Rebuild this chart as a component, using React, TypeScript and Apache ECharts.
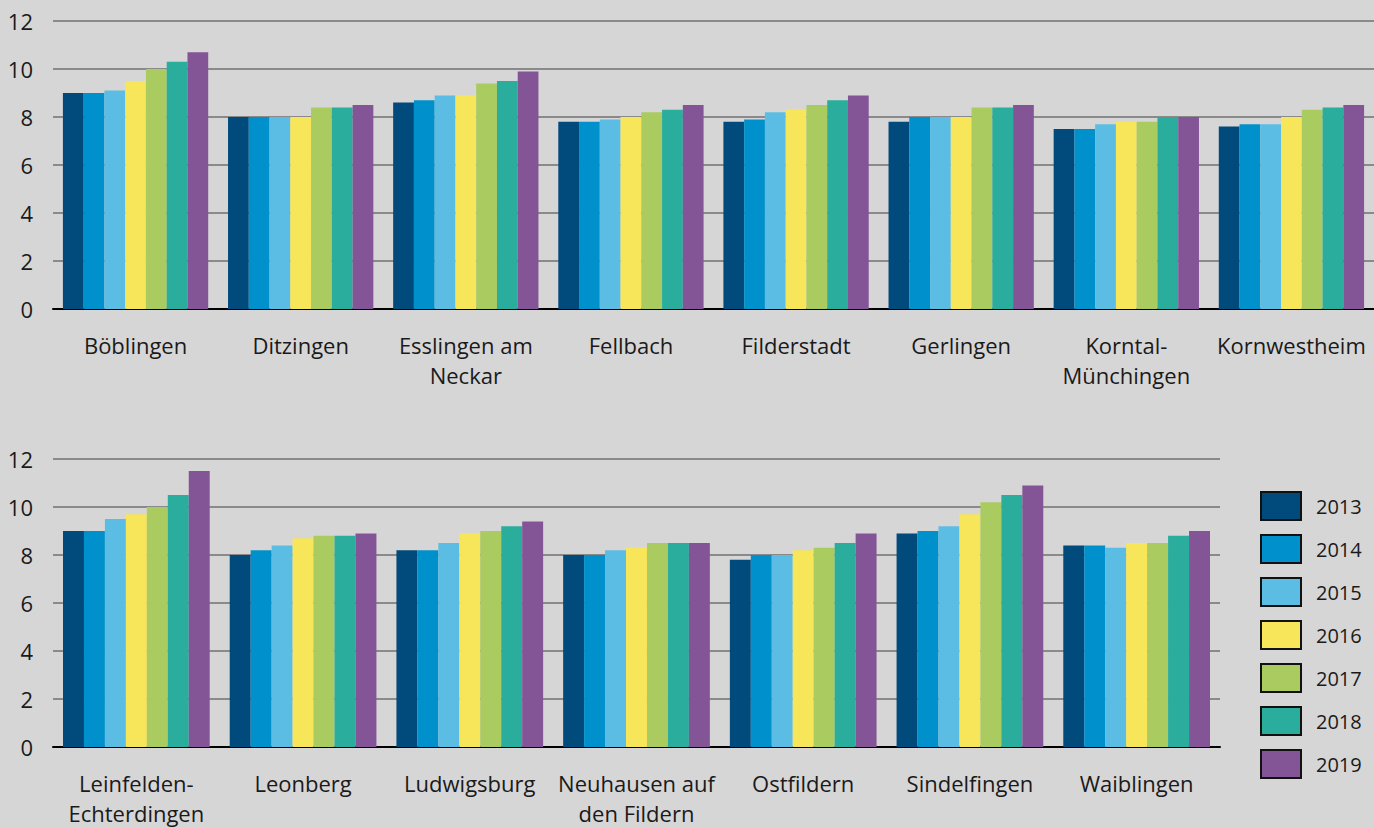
import React, { useEffect, useRef } from "react";
import * as echarts from "echarts";

const years = ["2013", "2014", "2015", "2016", "2017", "2018", "2019"];
const colors = ["#004a7c", "#0090cb", "#5bbde4", "#f7e55a", "#aacb5f", "#2aad9d", "#835597"];

const topCities = [
  "Böblingen",
  "Ditzingen",
  "Esslingen am\nNeckar",
  "Fellbach",
  "Filderstadt",
  "Gerlingen",
  "Korntal-\nMünchingen",
  "Kornwestheim",
];
// values per city, years 2013..2019
const topValues = [
  [9.0, 9.0, 9.1, 9.5, 10.0, 10.3, 10.7],
  [8.0, 8.0, 8.0, 8.0, 8.4, 8.4, 8.5],
  [8.6, 8.7, 8.9, 8.9, 9.4, 9.5, 9.9],
  [7.8, 7.8, 7.9, 8.0, 8.2, 8.3, 8.5],
  [7.8, 7.9, 8.2, 8.3, 8.5, 8.7, 8.9],
  [7.8, 8.0, 8.0, 8.0, 8.4, 8.4, 8.5],
  [7.5, 7.5, 7.7, 7.8, 7.8, 8.0, 8.0],
  [7.6, 7.7, 7.7, 8.0, 8.3, 8.4, 8.5],
];

const bottomCities = [
  "Leinfelden-\nEchterdingen",
  "Leonberg",
  "Ludwigsburg",
  "Neuhausen auf\nden Fildern",
  "Ostfildern",
  "Sindelfingen",
  "Waiblingen",
];
const bottomValues = [
  [9.0, 9.0, 9.5, 9.7, 10.0, 10.5, 11.5],
  [8.0, 8.2, 8.4, 8.7, 8.8, 8.8, 8.9],
  [8.2, 8.2, 8.5, 8.9, 9.0, 9.2, 9.4],
  [8.0, 8.0, 8.2, 8.3, 8.5, 8.5, 8.5],
  [7.8, 8.0, 8.0, 8.2, 8.3, 8.5, 8.9],
  [8.9, 9.0, 9.2, 9.7, 10.2, 10.5, 10.9],
  [8.4, 8.4, 8.3, 8.5, 8.5, 8.8, 9.0],
];

const yTicks = [0, 2, 4, 6, 8, 10, 12];

const FONT = "'Open Sans', 'Noto Sans', sans-serif";

export default function App() {
  const ref = useRef<HTMLDivElement>(null);
  useEffect(() => {
    if (!ref.current) return;
    const chart = echarts.init(ref.current, null, { renderer: "svg" });

    const yAxisBase = (gridIndex: number) => ({
      type: "value",
      gridIndex,
      min: yTicks[0],
      max: yTicks[yTicks.length - 1],
      interval: yTicks[1] - yTicks[0],
      axisLine: { show: false },
      axisTick: { show: false },
      axisLabel: { color: "#1a1a1a", fontSize: 22, fontFamily: FONT, margin: 20 },
      splitLine: { lineStyle: { color: "#8a8a8a", width: 2 } },
    });
    const xAxisBase = (gridIndex: number, data: string[]) => ({
      type: "category",
      gridIndex,
      data,
      axisLine: { lineStyle: { color: "#000", width: 2 } },
      axisTick: { show: false },
      axisLabel: {
        color: "#1a1a1a",
        fontSize: 22,
        fontFamily: FONT,
        margin: 21,
        lineHeight: 30,
        interval: 0,
      },
    });

    const series: any[] = [];
    years.forEach((y, i) => {
      series.push({
        type: "bar",
        name: y,
        xAxisIndex: 0,
        yAxisIndex: 0,
        data: topValues.map((v) => v[i]),
        itemStyle: { color: colors[i] },
        barGap: "0%",
        barCategoryGap: "12%",
      });
    });
    years.forEach((y, i) => {
      series.push({
        type: "bar",
        name: y,
        xAxisIndex: 1,
        yAxisIndex: 1,
        data: bottomValues.map((v) => v[i]),
        itemStyle: { color: colors[i] },
        barGap: "0%",
        barCategoryGap: "12%",
      });
    });

    chart.setOption({
      animation: false,
      backgroundColor: "#d7d6d7",
      textStyle: { fontFamily: FONT },
      grid: [
        { left: 53, top: 21, width: 1321, height: 288 },
        { left: 53, top: 459, width: 1167, height: 289 },
      ],
      xAxis: [xAxisBase(0, topCities), xAxisBase(1, bottomCities)],
      yAxis: [yAxisBase(0), yAxisBase(1)],
      legend: {
        data: years,
        orient: "vertical",
        left: 1255,
        top: 486,
        itemWidth: 40,
        itemHeight: 28,
        itemGap: 13,
        icon: "rect",
        itemStyle: { borderColor: "#111", borderWidth: 2 },
        textStyle: { color: "#1a1a1a", fontSize: 20, fontFamily: FONT, padding: [0, 0, 0, 10] },
        selectedMode: false,
      },
      series,
    });
    return () => chart.dispose();
  }, []);
  return (
    <div
      ref={ref}
      style={{ position: "fixed", left: 0, top: 0, width: 1374, height: 828 }}
    />
  );
}
